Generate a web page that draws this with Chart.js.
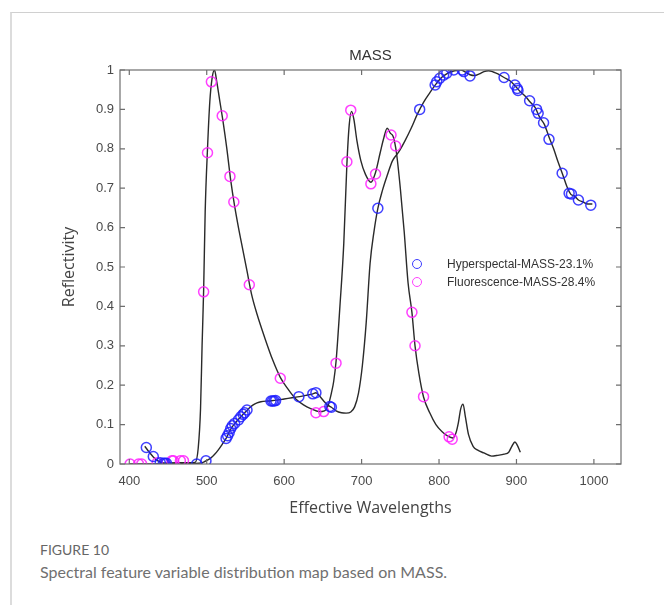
<!DOCTYPE html>
<html>
<head>
<meta charset="utf-8">
<script src="https://cdn.jsdelivr.net/npm/chart.js@4.4.0/dist/chart.umd.min.js"></script>
<style>
body { margin: 0; background: #fff; width: 664px; height: 605px; overflow: hidden; position: relative; }
#frame { position: absolute; left: 10px; top: 12px; width: 700px; height: 700px; border-left: 2px solid #dcdcdc; border-top: 1px solid #d0d0d0; }
#wrap { position: absolute; left: 0; top: 0; width: 664px; height: 530px; }
.legend { position: absolute; left: 412px; font: 12px "Liberation Sans", Arial, sans-serif; color: #333; white-space: nowrap; }
.legend span.mk { position: absolute; left: 0; top: 1px; width: 8px; height: 8px; border-radius: 50%; border: 1.6px solid; }
.legend span.tx { position: absolute; left: 35px; top: -1px; }
#fig { position: absolute; left: 40px; top: 541px; font: 14px Lato, sans-serif; color: #666; }
#cap { position: absolute; left: 40px; top: 562px; font: 16px Lato, sans-serif; color: #707070; }
</style>
</head>
<body>
<div id="frame"></div>
<div id="wrap"><canvas id="myChart" width="664" height="530"></canvas></div>
<div class="legend" style="top:258px"><span class="mk" style="border-color:#3c3cff"></span><span class="tx">Hyperspectal-MASS-23.1%</span></div>
<div class="legend" style="top:276px"><span class="mk" style="border-color:#ff40ff"></span><span class="tx">Fluorescence-MASS-28.4%</span></div>
<div id="fig">FIGURE 10</div>
<div id="cap">Spectral feature variable distribution map based on MASS.</div>
<script>
let xTicks = [400, 500, 600, 700, 800, 900, 1000]
let yTicks = [0, 0.1, 0.2, 0.3, 0.4, 0.5, 0.6, 0.7, 0.8, 0.9, 1]

// mean fluorescence spectrum
let fluoWl = [400, 420, 440, 460, 480, 485, 489, 492, 494, 496, 498, 501, 504, 507, 510, 513, 517, 521, 526, 531, 536, 541, 546, 552, 558, 565, 575, 585, 595, 605, 615, 625, 635, 645, 652, 657, 661, 664, 667, 672, 677, 681, 684, 687, 690, 694, 699, 705, 712, 718, 724, 729, 733, 737, 741, 745, 750, 755, 760, 765, 769, 774, 780, 788, 796, 804, 812, 818, 822, 825, 828, 831, 834, 838, 844, 850, 858, 868, 876, 884, 890, 894, 898, 901, 905]
let fluoVal = [0, 0, 0.001, 0.003, 0.003, 0.004, 0.04, 0.14, 0.3, 0.44, 0.64, 0.8, 0.92, 0.98, 1.0, 0.97, 0.92, 0.87, 0.8, 0.72, 0.655, 0.6, 0.55, 0.49, 0.43, 0.38, 0.32, 0.265, 0.22, 0.19, 0.165, 0.15, 0.14, 0.133, 0.135, 0.15, 0.18, 0.21, 0.26, 0.4, 0.56, 0.76, 0.86, 0.895, 0.875, 0.82, 0.77, 0.735, 0.715, 0.74, 0.79, 0.83, 0.852, 0.84, 0.83, 0.79, 0.7, 0.59, 0.46, 0.385, 0.3, 0.23, 0.17, 0.13, 0.1, 0.082, 0.07, 0.066, 0.08, 0.105, 0.14, 0.152, 0.12, 0.075, 0.045, 0.035, 0.028, 0.02, 0.022, 0.025, 0.03, 0.045, 0.056, 0.048, 0.03]

// mean hyperspectral reflectance
let hyperWl = [420, 425, 431, 437, 443, 450, 460, 470, 480, 490, 496, 500, 505, 510, 515, 520, 525, 530, 535, 540, 545, 550, 555, 560, 565, 570, 580, 590, 600, 610, 620, 630, 637, 641, 646, 651, 656, 661, 667, 674, 680, 686, 691, 696, 701, 706, 711, 716, 721, 727, 733, 740, 748, 756, 764, 772, 780, 788, 796, 804, 812, 820, 828, 834, 840, 846, 852, 858, 864, 870, 876, 884, 892, 899, 905, 912, 918, 924, 930, 936, 942, 948, 954, 960, 965, 970, 975, 980, 986, 992, 998]
let hyperVal = [0.045, 0.032, 0.018, 0.008, 0.003, 0.002, 0.001, 0.001, 0.001, 0.002, 0.005, 0.009, 0.015, 0.024, 0.036, 0.05, 0.065, 0.085, 0.1, 0.111, 0.122, 0.132, 0.142, 0.15, 0.155, 0.158, 0.16, 0.162, 0.165, 0.168, 0.171, 0.175, 0.178, 0.181, 0.172, 0.16, 0.15, 0.144, 0.135, 0.13, 0.129, 0.132, 0.145, 0.18, 0.25, 0.36, 0.51, 0.59, 0.649, 0.695, 0.732, 0.77, 0.792, 0.82, 0.852, 0.888, 0.918, 0.942, 0.964, 0.982, 0.993, 0.998, 1.0, 0.995, 0.988, 0.986, 0.99, 0.996, 0.998, 0.995, 0.99, 0.981, 0.972, 0.958, 0.945, 0.932, 0.918, 0.905, 0.88, 0.862, 0.83, 0.8, 0.765, 0.733, 0.705, 0.685, 0.68, 0.67, 0.665, 0.66, 0.66]

// selected variables
let hyperSelWl = [422, 431, 440, 444, 446, 448, 487, 499, 525, 527, 529, 531, 533, 536, 541, 544, 547, 549, 552, 583, 585, 587, 589, 619, 637, 641, 659, 661, 721, 775, 795, 797, 801, 806, 810, 819, 830, 832, 840, 884, 898, 901, 902, 917, 926, 928, 935, 942, 959, 968, 971, 980, 996]
let hyperSelVal = [0.042, 0.019, 0.003, 0.002, 0.002, 0.002, 0.0, 0.008, 0.065, 0.072, 0.08, 0.09, 0.097, 0.103, 0.112, 0.12, 0.126, 0.13, 0.137, 0.16, 0.16, 0.16, 0.161, 0.171, 0.178, 0.181, 0.146, 0.144, 0.649, 0.9, 0.962, 0.97, 0.979, 0.987, 0.992, 1.0, 1.0, 0.996, 0.985, 0.981, 0.962, 0.953, 0.948, 0.922, 0.9, 0.89, 0.866, 0.824, 0.738, 0.687, 0.685, 0.67, 0.657]
let fluoSelWl = [401, 412, 416, 436, 455, 457, 466, 470, 496, 501, 506, 520, 530, 535, 555, 595, 641, 651, 667, 681, 686, 712, 718, 738, 744, 765, 769, 780, 813, 817]
let fluoSelVal = [0, 0, 0, 0.003, 0.008, 0.008, 0.008, 0.008, 0.437, 0.79, 0.97, 0.884, 0.73, 0.665, 0.455, 0.2175, 0.13, 0.133, 0.256, 0.767, 0.898, 0.711, 0.736, 0.835, 0.807, 0.385, 0.3, 0.171, 0.069, 0.063]

function pts(xs, ys) {
        return xs.map((x, i) => ({x: x, y: ys[i]}))
}

let tickFont = {family: "'Liberation Sans', Arial, sans-serif", size: 13}
let titleFont = {family: "'Open Sans', sans-serif", size: 16}

// box and inward tick marks on all four sides
let boxTicks = {
        id: 'boxTicks',
        afterDatasetsDraw(chart) {
                let ctx = chart.ctx
                let a = chart.chartArea
                let xs = chart.scales.x
                let ys = chart.scales.y
                ctx.save()
                ctx.strokeStyle = '#6e6e6e'
                ctx.lineWidth = 1.2
                ctx.strokeRect(a.left, a.top, a.right - a.left, a.bottom - a.top)
                ctx.beginPath()
                for (let v of xTicks) {
                        let px = xs.getPixelForValue(v)
                        ctx.moveTo(px, a.bottom); ctx.lineTo(px, a.bottom - 5)
                        ctx.moveTo(px, a.top); ctx.lineTo(px, a.top + 5)
                }
                for (let v of yTicks) {
                        let py = ys.getPixelForValue(v)
                        ctx.moveTo(a.left, py); ctx.lineTo(a.left + 5, py)
                        ctx.moveTo(a.right, py); ctx.lineTo(a.right - 5, py)
                }
                ctx.stroke()
                ctx.restore()
        }
}

let lineStyle = {showLine: true, pointRadius: 0, borderColor: '#2a2a2a', borderWidth: 1.4, cubicInterpolationMode: 'monotone', fill: false}
let markStyle = {showLine: false, pointRadius: 5, pointHoverRadius: 5, pointBorderWidth: 1.5, backgroundColor: 'rgba(0,0,0,0)'}

let myChart = new Chart(document.getElementById('myChart'), {
        type: 'scatter',
        data: {
                datasets: [
                        Object.assign({label: 'Hyperspectal-MASS-23.1%', data: pts(hyperSelWl, hyperSelVal), borderColor: 'rgba(30,30,255,0.85)'}, markStyle),
                        Object.assign({label: 'Fluorescence-MASS-28.4%', data: pts(fluoSelWl, fluoSelVal), borderColor: 'rgba(255,30,255,0.85)'}, markStyle),
                        Object.assign({label: 'fluorescence', data: pts(fluoWl, fluoVal)}, lineStyle),
                        Object.assign({label: 'hyperspectral', data: pts(hyperWl, hyperVal)}, lineStyle)
                ]
        },
        options: {
                responsive: false,
                animation: false,
                layout: {padding: 0},
                plugins: {legend: {display: false}, tooltip: {enabled: false}, title: {display: false}},
                scales: {
                        x: {
                                type: 'linear', position: 'bottom', min: 388, max: 1035,
                                afterBuildTicks: s => { s.ticks = xTicks.map(v => ({value: v})) },
                                afterFit: s => { s.height = 66 },
                                grid: {display: false, drawTicks: false},
                                border: {display: false},
                                ticks: {font: tickFont, color: '#4a4a4a', padding: 10, maxRotation: 0, callback: v => String(v)},
                                title: {display: true, text: 'Effective Wavelengths', font: titleFont, color: '#444', padding: {top: 0, bottom: 12}}
                        },
                        x2: {
                                type: 'linear', position: 'top', min: 388, max: 1035,
                                afterFit: s => { s.height = 70 },
                                grid: {display: false, drawTicks: false},
                                border: {display: false},
                                ticks: {display: false},
                                title: {display: true, text: 'MASS', font: {family: "'Liberation Sans', Arial, sans-serif", size: 15}, color: '#333', padding: {top: 47, bottom: 0}}
                        },
                        y: {
                                type: 'linear', position: 'left', min: 0, max: 1,
                                afterBuildTicks: s => { s.ticks = yTicks.map(v => ({value: v})) },
                                afterFit: s => { s.width = 120 },
                                grid: {display: false, drawTicks: false},
                                border: {display: false},
                                ticks: {font: tickFont, color: '#4a4a4a', padding: 6, callback: v => (v == 0 || v == 1) ? String(v) : v.toFixed(1)},
                                title: {display: true, text: 'Reflectivity', font: titleFont, color: '#444', padding: {top: 60, bottom: 0}}
                        },
                        y2: {
                                type: 'linear', position: 'right', min: 0, max: 1,
                                afterFit: s => { s.width = 43 },
                                grid: {display: false, drawTicks: false},
                                border: {display: false},
                                ticks: {display: false}
                        }
                }
        },
        plugins: [boxTicks]
})
</script>
</body>
</html>
